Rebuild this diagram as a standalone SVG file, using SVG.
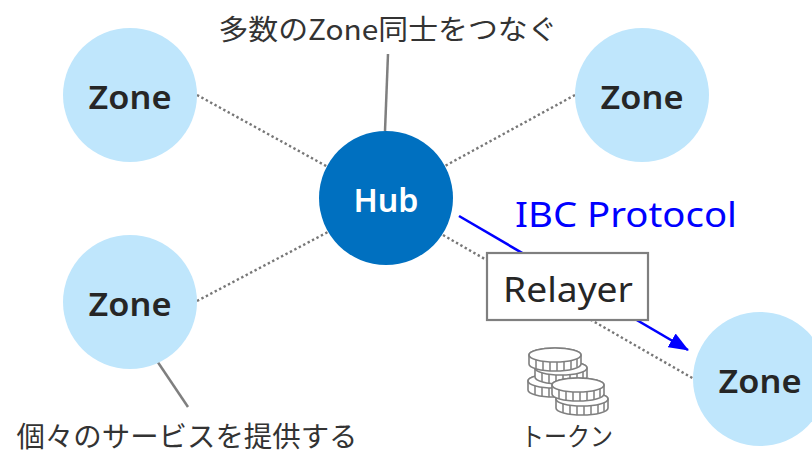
<svg xmlns="http://www.w3.org/2000/svg" width="812" height="454" viewBox="0 0 812 454">
<style>
.dot{stroke:#777777;stroke-width:2.4;stroke-dasharray:2.4 2.6;fill:none}
.lead{stroke:#7f7f7f;stroke-width:2.5;fill:none}
.zone{fill:#BFE6FC}
.zt{font-family:"Noto Sans","Liberation Sans",sans-serif;font-weight:600;font-size:32px;fill:#262626;text-anchor:middle}
.lbl{font-family:"Noto Sans CJK JP","Noto Sans",sans-serif;font-size:28px;fill:#333333;text-anchor:middle}
.coin{fill:#ffffff;stroke:#7f7f7f;stroke-width:1.6}
</style>
<defs>
<marker id="ah" markerUnits="userSpaceOnUse" markerWidth="20" markerHeight="16" refX="19" refY="8" orient="auto">
<path d="M0,0 L20,8 L0,16 Z" fill="#0000FF"/>
</marker>
<g id="coinshape">
<path class="coin" d="M-26,0 A26,7 0 0 1 26,0 V9 A26,7 0 0 1 -26,9 Z"/>
<ellipse class="coin" cx="0" cy="0" rx="26" ry="7"/>
<path stroke="#7f7f7f" stroke-width="1.5" d="M-19,4.8 v9 M-12,6.3 v9 M-5,6.9 v9 M2,7 v9 M9,6.6 v9 M16,5.5 v9 M22,3.7 v8.5"/>
</g>
</defs>
<g id="connectors">
<line class="dot" x1="197" y1="95" x2="328" y2="167"/>
<line class="dot" x1="197" y1="301" x2="328" y2="232"/>
<line class="dot" x1="575" y1="95" x2="443" y2="167"/>
<line class="dot" x1="443" y1="235" x2="694" y2="379"/>
<line x1="459" y1="216" x2="688" y2="350" stroke="#0000FF" stroke-width="2.6" marker-end="url(#ah)"/>
<line class="lead" x1="385" y1="131" x2="388" y2="54"/>
<line class="lead" x1="149" y1="349" x2="188" y2="407"/>
</g>
<g id="zone-tl"><circle class="zone" cx="130" cy="95" r="67"/><text class="zt" x="130" y="109" textLength="83" lengthAdjust="spacingAndGlyphs">Zone</text></g>
<g id="zone-tr"><circle class="zone" cx="642" cy="95" r="67"/><text class="zt" x="642" y="109" textLength="83" lengthAdjust="spacingAndGlyphs">Zone</text></g>
<g id="zone-bl"><circle class="zone" cx="130" cy="302" r="67"/><text class="zt" x="130" y="316" textLength="83" lengthAdjust="spacingAndGlyphs">Zone</text></g>
<g id="zone-br"><circle class="zone" cx="760" cy="379" r="67"/><text class="zt" x="760" y="393" textLength="83" lengthAdjust="spacingAndGlyphs">Zone</text></g>
<g id="hub"><circle cx="386" cy="198" r="67" fill="#0070C0"/><text class="zt" x="386" y="212" style="fill:#ffffff" textLength="65" lengthAdjust="spacingAndGlyphs">Hub</text></g>
<g id="relayer"><rect x="487" y="253" width="161" height="67" fill="#ffffff" stroke="#7f7f7f" stroke-width="2.2"/><text x="568" y="302" font-family="Noto Sans, Liberation Sans, sans-serif" font-size="35" fill="#262626" text-anchor="middle" textLength="130" lengthAdjust="spacingAndGlyphs">Relayer</text></g>
<g id="ibc-label"><text x="515" y="227" font-family="Noto Sans, Liberation Sans, sans-serif" font-size="35" fill="#0000FF" textLength="222" lengthAdjust="spacingAndGlyphs">IBC Protocol</text></g>
<g id="top-label"><text class="lbl" x="388" y="40" textLength="339" lengthAdjust="spacingAndGlyphs">多数のZone同士をつなぐ</text></g>
<g id="bottom-label"><text class="lbl" x="187" y="447" textLength="341" lengthAdjust="spacingAndGlyphs">個々のサービスを提供する</text></g>
<g id="token">
<use href="#coinshape" x="554" y="381"/>
<use href="#coinshape" x="561" y="368"/>
<use href="#coinshape" x="555" y="355"/>
<use href="#coinshape" x="582" y="399"/>
<use href="#coinshape" x="578" y="385"/>
<text class="lbl" x="567" y="446" style="font-size:26px" textLength="92" lengthAdjust="spacingAndGlyphs">トークン</text>
</g>
</svg>
